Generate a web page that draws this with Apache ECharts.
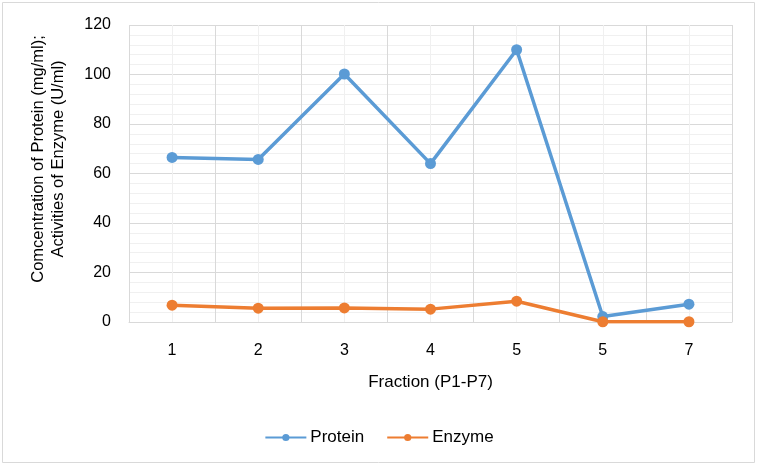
<!DOCTYPE html>
<html><head><meta charset="utf-8">
<script src="https://cdn.jsdelivr.net/npm/echarts@6/dist/echarts.min.js"></script>
<style>html,body{margin:0;padding:0;background:#fff}#c{width:758px;height:467px}</style>
</head><body><div id="c"></div>
<script>
const categories = ['1','2','3','4','5','5','7'];
const protein = [66.5, 65.7, 100.2, 64.0, 110.0, 2.2, 7.2];
const enzyme = [6.8, 5.6, 5.7, 5.2, 8.4, 0.1, 0.1];
const yTicks = [0, 20, 40, 60, 80, 100, 120];
const yTitle = 'Comcentration of Protein (mg/ml);\nActivities of Enzyme (U/ml)';
const xTitle = 'Fraction (P1-P7)';

const chart = echarts.init(document.getElementById('c'));
const font = 'Liberation Sans, Arial, sans-serif';
chart.setOption({
  animation: false,
  graphic: [
    {type:'rect', shape:{x:2.5,y:2.5,width:752,height:460}, style:{fill:'none', stroke:'#d9d9d9', lineWidth:1}, silent:true},
    {type:'text', x:48, y:159, rotation:Math.PI/2, silent:true,
     style:{text:yTitle, fill:'#000', font:'16.5px ' + font, align:'center', verticalAlign:'middle', lineHeight:20}}
  ],
  grid: {left:129, right:26, top:25, bottom:145, containLabel:false},
  legend: {
    top: 424, left: 'center', itemWidth: 41, itemHeight: 9, itemGap: 22,
    textStyle: {fontFamily: font, fontSize: 17, color: '#000', padding:[0,0,0,-1]},
    data: ['Protein','Enzyme']
  },
  xAxis: [{
    type:'category', data: categories, boundaryGap:true,
    axisLine:{show:true, lineStyle:{color:'#d9d9d9'}}, axisTick:{show:false},
    axisLabel:{fontFamily:font, fontSize:16, color:'#000', margin:21},
    splitLine:{show:false},
    name:xTitle, nameLocation:'middle', nameGap:52,
    nameTextStyle:{fontFamily:font, fontSize:17, color:'#000'}
  },{
    type:'value', min:0, max:7, interval:1, show:true, position:'bottom',
    axisLine:{show:false}, axisTick:{show:false}, axisLabel:{show:false},
    splitLine:{show:true, lineStyle:{color:'#d9d9d9'}},
    minorTick:{show:false, splitNumber:2},
    minorSplitLine:{show:true, lineStyle:{color:'#f0f0f0'}}
  }],
  yAxis: {
    type:'value', min:0, max:120, interval:20,
    axisLine:{show:false}, axisTick:{show:false},
    axisLabel:{fontFamily:font, fontSize:16, color:'#000', margin:18,
      formatter: v => yTicks.includes(v) ? String(v) : ''},
    splitLine:{show:true, lineStyle:{color:'#d9d9d9'}},
    minorTick:{show:false, splitNumber:5},
    minorSplitLine:{show:true, lineStyle:{color:'#f0f0f0'}}
  },
  series: [{
    name:'Protein', type:'line', data: protein, xAxisIndex:0,
    symbol:'circle', symbolSize:11,
    lineStyle:{width:3.5, color:'#5b9bd5'}, itemStyle:{color:'#5b9bd5'}
  },{
    name:'Enzyme', type:'line', data: enzyme, xAxisIndex:0,
    symbol:'circle', symbolSize:11,
    lineStyle:{width:3.5, color:'#ed7d31'}, itemStyle:{color:'#ed7d31'}
  }]
});
</script></body></html>
